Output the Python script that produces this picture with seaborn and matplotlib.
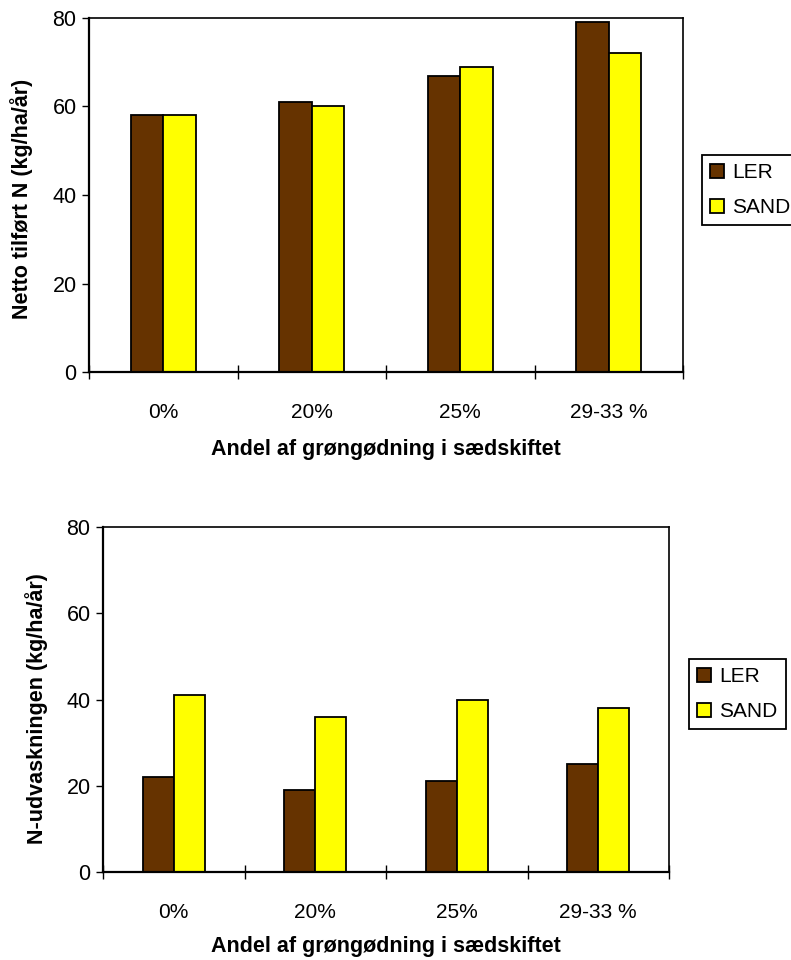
import matplotlib
matplotlib.use("Agg")
import matplotlib.pyplot as plt
import seaborn as sns
import pandas as pd
from matplotlib.patches import Patch
from matplotlib.ticker import FixedLocator

categories = ["0%", "20%", "25%", "29-33 %"]
series = ["LER", "SAND"]
top_ler = [58, 61, 67, 79]
top_sand = [58, 60, 69, 72]
bot_ler = [22, 19, 21, 25]
bot_sand = [41, 36, 40, 38]
yticks = [0, 20, 40, 60, 80]
top_ylabel = "Netto tilført N (kg/ha/år)"
bot_ylabel = "N-udvaskningen (kg/ha/år)"
xlabel = "Andel af grøngødning i sædskiftet"
colors = {"LER": "#663300", "SAND": "#FFFF00"}

sns.set_theme(style="white")
plt.rcParams["font.family"] = ["Liberation Sans", "DejaVu Sans"]
plt.rcParams["text.color"] = "black"
plt.rcParams["axes.labelcolor"] = "black"
plt.rcParams["xtick.color"] = "black"
plt.rcParams["ytick.color"] = "black"

W, H = 791, 960
fig = plt.figure(figsize=(W / 100, H / 100), dpi=100)


def make_df(ler, sand):
    rows = []
    for c, a, b in zip(categories, ler, sand):
        rows.append({"cat": c, "series": "LER", "val": a})
        rows.append({"cat": c, "series": "SAND", "val": b})
    return pd.DataFrame(rows)


def draw(rect_px, ler, sand, ylabel, ylab_xy, xlab_y, leg_xy):
    l, t, r, b = rect_px
    ax = fig.add_axes([l / W, 1 - b / H, (r - l) / W, (b - t) / H])
    df = make_df(ler, sand)
    sns.barplot(data=df, x="cat", y="val", hue="series", order=categories,
                hue_order=series, palette=colors, width=0.44, ax=ax,
                edgecolor="black", linewidth=1.3, saturation=1, legend=False)
    ax.set_ylim(0, 80)
    ax.set_xlim(-0.5, len(categories) - 0.5)
    ax.set_yticks(yticks)
    ax.tick_params(axis="y", which="major", direction="out", length=5,
                   width=1, color="black", labelsize=15.5, pad=4, left=True)
    ax.tick_params(axis="x", which="major", length=0, labelsize=15, pad=22)
    ax.xaxis.set_minor_locator(FixedLocator([i - 0.5 for i in range(len(categories) + 1)]))
    ax.tick_params(axis="x", which="minor", direction="inout", length=10,
                   width=1, color="black", bottom=True)
    for s in ax.spines.values():
        s.set_visible(True)
        s.set_color("black")
        s.set_linewidth(1.2)
    ax.spines["left"].set_linewidth(1.6)
    ax.spines["bottom"].set_linewidth(1.6)
    ax.set_ylabel(ylabel, fontsize=15.5, fontweight="bold")
    ax.yaxis.set_label_coords(*ylab_xy)
    ax.set_xlabel(xlabel, fontsize=15.5, fontweight="bold")
    ax.xaxis.set_label_coords(0.5, xlab_y)
    ax.xaxis.label.set_va("center")
    ax.yaxis.label.set_va("center")
    handles = [Patch(facecolor=colors[s], edgecolor="black", linewidth=1.3) for s in series]
    leg = fig.legend(handles, series, loc="upper left",
                     bbox_to_anchor=(leg_xy[0] / W, 1 - leg_xy[1] / H),
                     fontsize=15, frameon=True, fancybox=False, shadow=False,
                     handlelength=0.65, handleheight=0.65, handletextpad=0.4,
                     labelspacing=0.75, borderpad=0.4, borderaxespad=0)
    fr = leg.get_frame()
    fr.set_edgecolor("black")
    fr.set_linewidth(1.3)
    fr.set_facecolor("white")
    fr.set_alpha(1)
    return ax


draw((89, 18, 683, 372), top_ler, top_sand, top_ylabel, (-0.113, 0.49), -0.22, (702, 155))
draw((103, 527, 669, 872), bot_ler, bot_sand, bot_ylabel, (-0.117, 0.475), -0.217, (689, 659))

fig.savefig("out.png", dpi=100, facecolor="white")
